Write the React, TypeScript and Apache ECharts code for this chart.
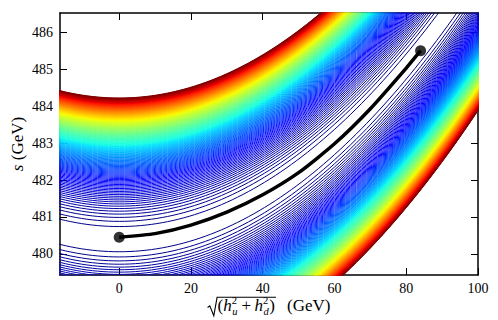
import React, { useEffect, useRef } from "react";
import * as echarts from "echarts";

// ---- axes ----
const xTicks = [0, 20, 40, 60, 80, 100];
const yTicks = [480, 481, 482, 483, 484, 485, 486];
const xMin = -16.5;
const xMax = 100;
const yMin = 479.43;
const yMax = 486.52;

// ---- path of the minimum (black curve) ----
const pathH = [0, 10, 20, 30, 40, 50, 60, 70, 80, 84];
const pathS = [480.45, 480.55, 480.78, 481.13, 481.6, 482.2, 482.98, 483.93, 485.03, 485.5];
const endpointH = [0, 84];
const endpointS = [480.45, 485.5];

// ---- contour model: level curves s = valleyS0 ± d + curvature·h² ----
const valleyS0 = 480.4;
const curvature = 0.00073;
const outerDistance = 3.82;
const quarticWeight = 0.03;
const levelCount = 180;
const sampleH: number[] = [];
for (let h = -18; h <= 102; h += 1.5) sampleH.push(h);

const jetR = [[0, 0], [0.35, 0], [0.66, 1], [0.89, 1], [1, 0.5]];
const jetG = [[0, 0], [0.125, 0], [0.375, 1], [0.64, 1], [0.91, 0], [1, 0]];
const jetB = [[0, 0.5], [0.11, 1], [0.34, 1], [0.65, 0], [1, 0]];

function seg(pts: number[][], t: number) {
  for (let i = 1; i < pts.length; i++) {
    if (t <= pts[i][0]) {
      const [x0, y0] = pts[i - 1];
      const [x1, y1] = pts[i];
      return y0 + ((y1 - y0) * (t - x0)) / (x1 - x0);
    }
  }
  return pts[pts.length - 1][1];
}
function jet(t: number) {
  const c = (v: number) => Math.round(Math.max(0, Math.min(1, v)) * 255);
  return `rgb(${c(seg(jetR, t))},${c(seg(jetG, t))},${c(seg(jetB, t))})`;
}

function buildContours() {
  const q = quarticWeight;
  const D = outerDistance;
  const vMax = D * D + q * D * D * D * D;
  const out: any[] = [];
  for (let k = 1; k <= levelCount; k++) {
    const V = (vMax * k) / levelCount;
    const d = Math.sqrt((-1 + Math.sqrt(1 + 4 * q * V)) / (2 * q));
    const color = jet(k / levelCount);
    for (const sign of [1, -1]) {
      out.push({
        coords: sampleH.map((h) => [h, valleyS0 + sign * d + curvature * h * h]),
        lineStyle: { color },
      });
    }
  }
  return out;
}

const SERIF = '"Liberation Serif", "Times New Roman", serif';

function buildXLabel(plotCenter: number) {
  const cvs = document.createElement("canvas");
  const ctx = cvs.getContext("2d")!;
  const fontOf = (size: number, italic?: boolean) =>
    `${italic ? "italic " : ""}${size}px ${SERIF}`;
  const w = (t: string, size: number, italic?: boolean) => {
    ctx.font = fontOf(size, italic);
    return ctx.measureText(t).width;
  };
  const main = 17;
  const small = 10.5;
  const baseY = 311.5;
  const midMain = baseY - 0.34 * main;
  const supMid = 300;
  const subMid = 311;

  type P = { t: string; size: number; italic?: boolean; mid: number; dx: number; lh?: number };
  const items: P[] = [];
  let x = 0;
  const add = (t: string, size: number, italic: boolean | undefined, mid: number) => {
    items.push({ t, size, italic, mid, dx: x });
    x += w(t, size, italic);
  };
  const stack = (sup: string, sub: string) => {
    items.push({ t: sup, size: small, italic: false, mid: supMid, dx: x, lh: small });
    items.push({ t: sub, size: small, italic: true, mid: subMid, dx: x + 0.5, lh: small });
    x += Math.max(w(sup, small), w(sub, small, true)) + 1;
  };
  add("(", main, false, midMain);
  add("h", main, true, midMain);
  stack("2", "u");
  x += 3.5;
  add("+", main, false, midMain);
  x += 3.5;
  add("h", main, true, midMain);
  stack("2", "d");
  add(")", main, false, midMain);
  const innerW = x;
  const radW = 10;
  const gap = 12;
  const gevW = w("(GeV)", main);
  const total = radW + innerW + gap + gevW;
  const x0 = plotCenter - total / 2;
  const children: any[] = [];
  const topY = 297.3;
  children.push({
    type: "polyline",
    shape: {
      points: [
        [x0, 307.5],
        [x0 + 2.2, 305.8],
        [x0 + 6.2, 315.8],
        [x0 + radW - 0.5, topY],
        [x0 + radW + innerW + 1, topY],
      ],
    },
    style: { stroke: "#000", lineWidth: 1.1, fill: null },
  });
  for (const it of items) {
    children.push({
      type: "text",
      x: x0 + radW + it.dx,
      y: it.mid,
      style: {
        text: it.t,
        font: fontOf(it.size, it.italic),
        fill: "#000",
        align: "left",
        verticalAlign: "middle",
        ...(it.lh ? { lineHeight: it.lh } : {}),
      },
    });
  }
  children.push({
    type: "text",
    x: x0 + radW + innerW + gap,
    y: midMain,
    style: { text: "(GeV)", font: fontOf(main), fill: "#000", align: "left", verticalAlign: "middle" },
  });
  return children;
}

export default function App() {
  const ref = useRef<HTMLDivElement>(null);
  useEffect(() => {
    const chart = echarts.init(ref.current!, null, { renderer: "svg" });
    const left = 60;
    const right = 20;
    const top = 13;
    const bottom = 45;
    const plotCenter = left + (498 - left - right) / 2;
    const frameLine = { show: true, onZero: false, lineStyle: { color: "#000", width: 1.5 } };
    const tickStyle = (vals: number[]) => ({
      show: true,
      inside: true,
      length: 7,
      customValues: vals,
      lineStyle: { color: "#000", width: 1 },
    });
    const labelFont = { fontFamily: SERIF, fontSize: 14, color: "#000" };
    const option: any = {
      animation: false,
      backgroundColor: "#fff",
      grid: { left, right, top, bottom, outerBoundsMode: "none", containLabel: false },
      xAxis: [
        {
          type: "value",
          position: "bottom",
          min: xMin,
          max: xMax,
          axisLine: frameLine,
          axisTick: tickStyle(xTicks),
          axisLabel: { ...labelFont, margin: 6, customValues: xTicks },
          splitLine: { show: false },
        },
        {
          type: "value",
          position: "top",
          min: xMin,
          max: xMax,
          axisLine: frameLine,
          axisTick: tickStyle(xTicks),
          axisLabel: { show: false },
          splitLine: { show: false },
        },
      ],
      yAxis: [
        {
          type: "value",
          position: "left",
          min: yMin,
          max: yMax,
          axisLine: frameLine,
          axisTick: tickStyle(yTicks),
          axisLabel: { ...labelFont, margin: 7, customValues: yTicks },
          splitLine: { show: false },
        },
        {
          type: "value",
          position: "right",
          min: yMin,
          max: yMax,
          axisLine: frameLine,
          axisTick: tickStyle(yTicks),
          axisLabel: { show: false },
          splitLine: { show: false },
        },
      ],
      graphic: [
        ...buildXLabel(plotCenter),
        {
          type: "text",
          x: 17,
          y: top + (320 - top - bottom) / 2,
          rotation: Math.PI / 2,
          style: {
            text: "{i|s} (GeV)",
            font: `17px ${SERIF}`,
            fill: "#000",
            align: "center",
            verticalAlign: "middle",
            rich: { i: { fontStyle: "italic", fontFamily: SERIF, fontSize: 17, fill: "#000" } },
          },
        },
      ],
      series: [
        {
          type: "lines",
          coordinateSystem: "cartesian2d",
          xAxisIndex: 0,
          yAxisIndex: 0,
          polyline: true,
          clip: true,
          silent: true,
          data: buildContours(),
          lineStyle: { width: 1, opacity: 1 },
          z: 1,
        },
        {
          type: "line",
          xAxisIndex: 0,
          yAxisIndex: 0,
          data: pathH.map((h, i) => [h, pathS[i]]),
          smooth: 0.2,
          showSymbol: false,
          silent: true,
          lineStyle: { color: "#000", width: 3.5 },
          z: 5,
        },
        {
          type: "scatter",
          xAxisIndex: 0,
          yAxisIndex: 0,
          data: endpointH.map((h, i) => [h, endpointS[i]]),
          symbolSize: 11,
          silent: true,
          itemStyle: { color: "#000" },
          z: 6,
        },
      ],
    };
    chart.setOption(option);
    return () => chart.dispose();
  }, []);
  return (
    <div
      ref={ref}
      style={{ position: "fixed", left: 0, top: 0, width: 498, height: 320, background: "#fff" }}
    />
  );
}
